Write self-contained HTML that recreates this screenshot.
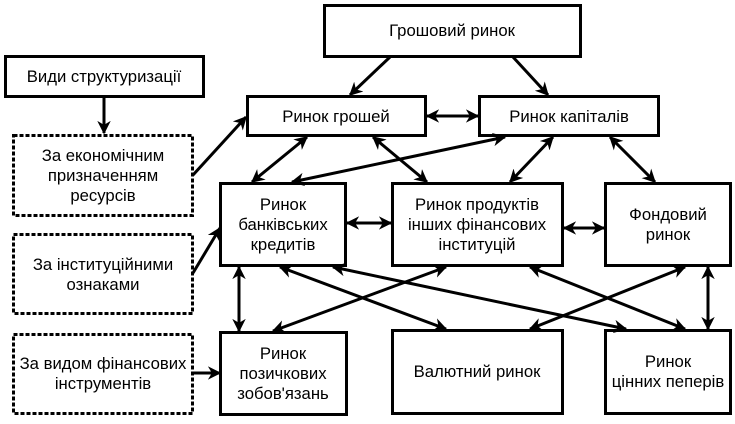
<!DOCTYPE html>
<html><head><meta charset="utf-8"><style>
body{margin:0;background:#fff;}
svg text{font-family:"Liberation Sans",sans-serif;font-size:16.7px;fill:#000;text-anchor:middle;}
</style></head><body>
<svg width="735" height="419" viewBox="0 0 735 419" xmlns="http://www.w3.org/2000/svg">
<defs>
<marker id="a" viewBox="0 0 10 10" refX="9" refY="5" markerWidth="4.5" markerHeight="4.5" orient="auto-start-reverse" markerUnits="strokeWidth">
<path d="M0,0 L10,5 L0,10 L3,5 z" fill="#000"/></marker>
</defs>
<g fill="#fff" stroke="#000" stroke-width="3">
<rect x="324.5" y="5.5" width="256" height="51"/>
<rect x="5.5" y="56.5" width="198" height="40"/>
<rect x="247.5" y="96.5" width="178" height="39"/>
<rect x="479.5" y="96.5" width="179" height="39"/>
<rect x="220.5" y="183.5" width="125" height="82"/>
<rect x="392.5" y="183.5" width="170" height="82"/>
<rect x="605.5" y="183.5" width="125" height="82"/>
<rect x="220.5" y="332.5" width="126" height="82"/>
<rect x="392.5" y="330.5" width="170" height="83"/>
<rect x="605.5" y="330.5" width="125" height="83"/>
<g stroke-dasharray="4,2">
<rect x="13.5" y="135.5" width="179" height="80"/>
<rect x="13.5" y="234.5" width="179" height="79"/>
<rect x="13.5" y="334.5" width="179" height="79"/>
</g>
</g>
<g stroke="#000" stroke-width="3" fill="none">
<line x1="390" y1="57" x2="350" y2="95" marker-end="url(#a)"/>
<line x1="513" y1="57" x2="548" y2="95" marker-end="url(#a)"/>
<line x1="104" y1="97" x2="104" y2="133" marker-end="url(#a)"/>
<line x1="193" y1="175" x2="246" y2="117" marker-end="url(#a)"/>
<line x1="193" y1="273" x2="220" y2="228" marker-end="url(#a)"/>
<line x1="193" y1="373" x2="220" y2="373" marker-end="url(#a)"/>
<g marker-start="url(#a)" marker-end="url(#a)">
<line x1="427" y1="116" x2="478" y2="116"/>
<line x1="307" y1="137" x2="252" y2="182"/>
<line x1="373" y1="137" x2="427" y2="182"/>
<line x1="505" y1="137" x2="292" y2="182"/>
<line x1="553" y1="137" x2="510" y2="182"/>
<line x1="610" y1="137" x2="655" y2="182"/>
<line x1="347" y1="223" x2="391" y2="223"/>
<line x1="564" y1="228" x2="604" y2="228"/>
<line x1="239" y1="267" x2="239" y2="331"/>
<line x1="446" y1="267" x2="273" y2="331"/>
<line x1="280" y1="267" x2="446" y2="329"/>
<line x1="333" y1="267" x2="626" y2="329"/>
<line x1="530" y1="267" x2="685" y2="329"/>
<line x1="685" y1="267" x2="530" y2="329"/>
<line x1="708" y1="267" x2="708" y2="329"/>
</g>
</g>
<text x="452" y="36">Грошовий ринок</text>
<text x="104" y="82">Види структуризації</text>
<text x="336" y="122">Ринок грошей</text>
<text x="569" y="122">Ринок капіталів</text>
<text x="103" y="161">За економічним</text>
<text x="103" y="181">призначенням</text>
<text x="103" y="201">ресурсів</text>
<text x="103" y="270">За інституційними</text>
<text x="103" y="290">ознаками</text>
<text x="103" y="369">За видом фінансових</text>
<text x="103" y="389">інструментів</text>
<text x="283" y="210">Ринок</text>
<text x="283" y="230">банківських</text>
<text x="283" y="250">кредитів</text>
<text x="477" y="210">Ринок продуктів</text>
<text x="477" y="230">інших фінансових</text>
<text x="477" y="250">інституцій</text>
<text x="668" y="220">Фондовий</text>
<text x="668" y="240">ринок</text>
<text x="283" y="359">Ринок</text>
<text x="283" y="379">позичкових</text>
<text x="283" y="399">зобов'язань</text>
<text x="477" y="377">Валютний ринок</text>
<text x="668" y="367">Ринок</text>
<text x="668" y="387">цінних пеперів</text>
</svg>
</body></html>
